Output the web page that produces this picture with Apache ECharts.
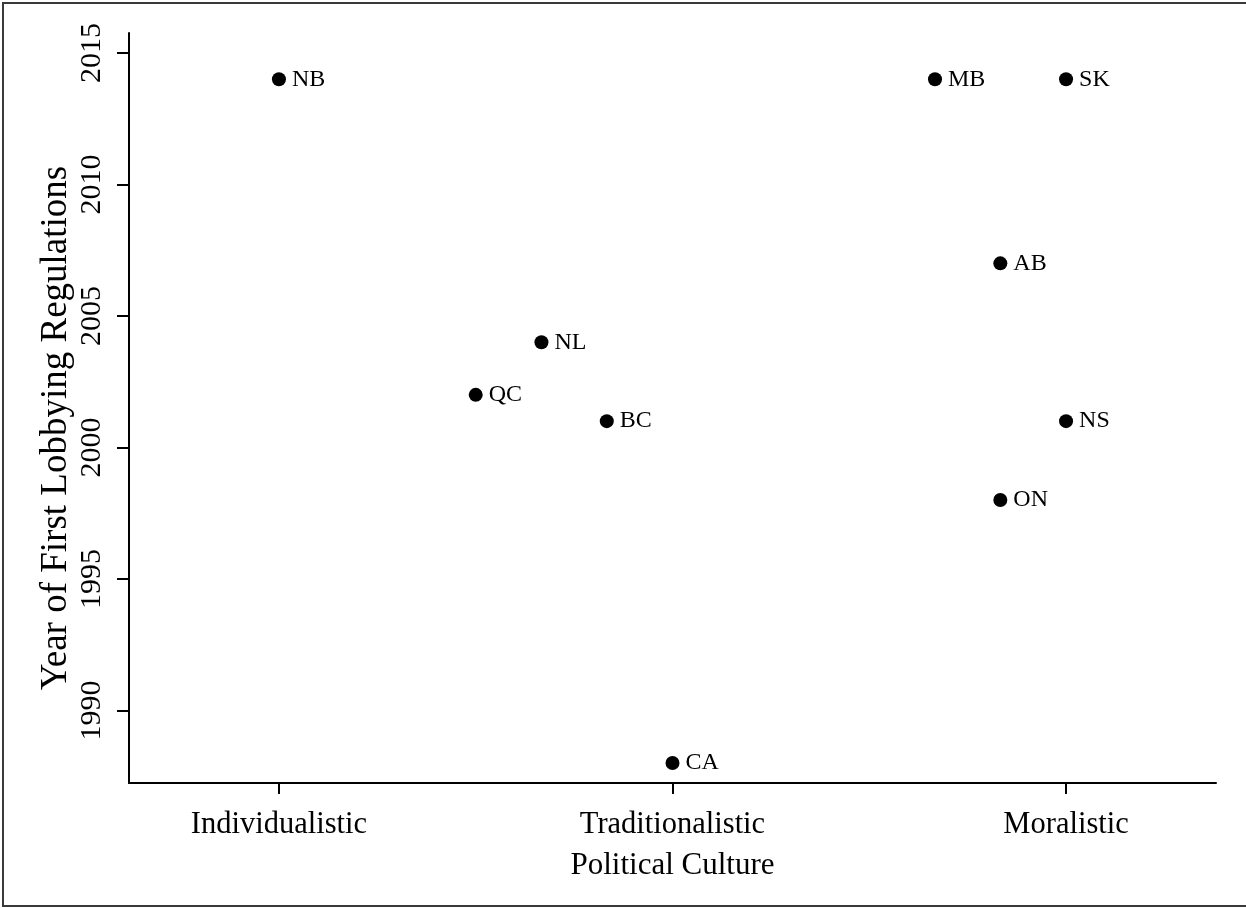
<!DOCTYPE html>
<html>
<head>
<meta charset="utf-8">
<script src="https://cdn.jsdelivr.net/npm/echarts@6/dist/echarts.min.js"></script>
<style>
  html, body { margin: 0; padding: 0; background: #fff; }
  #chart { width: 1246px; height: 908px; }
</style>
</head>
<body>
<div id="chart"></div>
<script>
// categories on the x axis (positions 1, 2, 3)
const cultures = ['Individualistic', 'Traditionalistic', 'Moralistic'];
const cultureTicks = [1, 2, 3];
const yearTicks = [1990, 1995, 2000, 2005, 2010, 2015];

// provinces: x position, year of first lobbying regulations
const provinces = ['NB', 'QC', 'NL', 'BC', 'CA', 'MB', 'AB', 'ON', 'SK', 'NS'];
const cultureScore = [1, 1.5, 1.667, 1.833, 2, 2.667, 2.833, 2.833, 3, 3];
const firstYear = [2014, 2002, 2004, 2001, 1988, 2014, 2007, 1998, 2014, 2001];

const font = '"Liberation Serif", "Times New Roman", serif';

const chart = echarts.init(document.getElementById('chart'));

chart.setOption({
  animation: false,
  backgroundColor: '#fff',
  graphic: [
    {
      type: 'rect',
      shape: { x: 3, y: 3, width: 1250, height: 903 },
      style: { fill: 'none', stroke: '#3a3a3a', lineWidth: 2 },
      silent: true
    },
    {
      // y axis title, placed by hand like R's mtext
      type: 'text',
      x: 56,
      y: 428,
      rotation: Math.PI / 2,
      style: {
        text: 'Year of First Lobbying Regulations',
        fontFamily: font,
        fontSize: 37,
        fill: '#000',
        align: 'center',
        verticalAlign: 'middle'
      },
      silent: true
    }
  ],
  grid: {
    left: 129,
    right: 30,
    top: 33,
    bottom: 125
  },
  xAxis: {
    type: 'value',
    min: 0.619,
    max: 3.381,
    name: 'Political Culture',
    nameLocation: 'middle',
    nameGap: 67,
    nameTextStyle: { fontFamily: font, fontSize: 31, color: '#000', verticalAlign: 'top' },
    splitLine: { show: false },
    axisLine: { show: true, lineStyle: { color: '#000', width: 2 } },
    axisTick: {
      show: true, length: 11, inside: false,
      customValues: cultureTicks,
      lineStyle: { color: '#000', width: 2 }
    },
    axisLabel: {
      customValues: cultureTicks,
      margin: 26,
      fontFamily: font,
      fontSize: 30.5,
      color: '#000',
      formatter: v => cultures[Math.round(v) - 1]
    }
  },
  yAxis: {
    type: 'value',
    min: 1987.24,
    max: 2015.76,
    splitLine: { show: false },
    axisLine: { show: true, lineStyle: { color: '#000', width: 2 } },
    axisTick: {
      show: true, length: 12, inside: false,
      customValues: yearTicks,
      lineStyle: { color: '#000', width: 2 }
    },
    axisLabel: {
      customValues: yearTicks,
      rotate: 90,
      margin: 22,
      fontFamily: font,
      fontSize: 30,
      color: '#000',
      formatter: v => String(v)
    }
  },
  series: [
    {
      type: 'scatter',
      symbol: 'circle',
      symbolSize: 14,
      itemStyle: { color: '#000', opacity: 1 },
      data: provinces.map((p, i) => ({ name: p, value: [cultureScore[i], firstYear[i]] })),
      label: {
        show: true,
        position: 'right',
        distance: 6,
        formatter: '{b}',
        fontFamily: font,
        fontSize: 24,
        color: '#000'
      }
    }
  ]
});
</script>
</body>
</html>
